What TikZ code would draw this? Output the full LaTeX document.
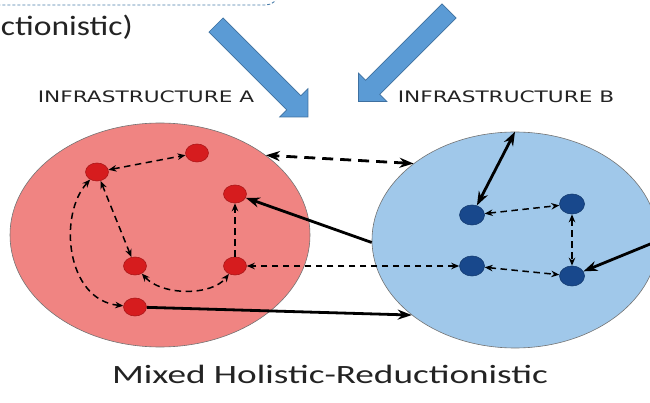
\documentclass[tikz,border=0pt]{standalone}
\usepackage{fontspec}
\setmainfont{Carlito}
\newfontfamily\capsfont{DejaVu Sans}
\usetikzlibrary{arrows.meta,shapes.geometric}
\definecolor{infraRed}{RGB}{240,132,130}
\definecolor{infraBlue}{RGB}{160,200,234}
\definecolor{dotRed}{RGB}{214,28,30}
\definecolor{dotBlue}{RGB}{24,72,140}
\definecolor{pointerBlue}{RGB}{91,155,213}
\definecolor{pointerEdge}{RGB}{62,112,160}
\definecolor{textGray}{RGB}{35,35,35}
\tikzset{
  infra/.style={
    ellipse,
    draw=black!55,
    line width=0.6pt,
    minimum width=300pt,
    minimum height=224pt,
    inner sep=0pt
  },
  reddot/.style={ellipse, fill=dotRed, draw=dotRed!80!black, line width=0.6pt,
    minimum width=23pt, minimum height=18pt, inner sep=0pt},
  bluedot/.style={ellipse, fill=dotBlue, draw=dotBlue!80!black, line width=0.6pt,
    minimum width=25pt, minimum height=20pt, inner sep=0pt},
  link/.style={arrows={Stealth[length=8pt,width=6.5pt]-Stealth[length=8pt,width=6.5pt]},
    line width=1.5pt, dash pattern=on 6.5pt off 4.5pt},
  onelink/.style={link, arrows={-Stealth[length=8pt,width=6.5pt]}},
  strong/.style={arrows={-Stealth[length=14pt,width=10pt]}, line width=2.8pt},
  strongboth/.style={strong, arrows={Stealth[length=14pt,width=10pt]-Stealth[length=14pt,width=10pt]}},
  strongdash/.style={strongboth, dash pattern=on 11pt off 7pt},
  infratitle/.style={font=\capsfont\fontsize{15.8}{18}\selectfont, text=textGray,
    xscale=1.37, anchor=base, inner sep=0pt},
  bigtext/.style={font=\fontsize{26.4}{30}\selectfont, text=textGray,
    xscale=1.41, anchor=base, inner sep=0pt},
  toptext/.style={font=\fontsize{28}{30}\selectfont, text=textGray,
    xscale=1.2, anchor=base east, inner sep=0pt},
  pointer/.style={fill=pointerBlue, draw=pointerEdge, line width=0.7pt, line join=miter},
  framebox/.style={draw=pointerBlue!80!black, line width=0.9pt, dash pattern=on 3pt off 2pt,
    rounded corners=12pt}
}
% block arrow: start point, angle, length
\newcommand{\pointerarrow}[3]{\draw[pointer, shift={#1}, rotate=#2]
  (0,-10) -- (#3-20,-10) -- (#3-20,-20) -- (#3,0) -- (#3-20,20) -- (#3-20,10) -- (0,10) -- cycle;}

\begin{document}
\begin{tikzpicture}[x=1pt, y=-1pt]
  \useasboundingbox (0,0) rectangle (650,403);
  \clip (0,0) rectangle (650,403);

  \draw[framebox] (-30,-60) rectangle (278,5);
  \node[toptext] (cut) at (133,36) {ctionistic)};

  \pointerarrow{(216,25)}{-45}{130}
  \pointerarrow{(449,11)}{-135}{128}

  \node[infratitle] (ttlA) at (146,103) {INFRASTRUCTURE A};
  \node[infratitle] (ttlB) at (506,103) {INFRASTRUCTURE B};

  \node[infra, fill=infraRed] (infA) at (160,235) {};
  \node[infra, fill=infraBlue, minimum width=286pt, minimum height=216pt] (infB) at (515,240) {};

  \node[reddot] (a1) at (97,172) {};
  \node[reddot] (a2) at (197,153) {};
  \node[reddot] (a3) at (235,194) {};
  \node[reddot] (a4) at (135,266) {};
  \node[reddot] (a5) at (235,266) {};
  \node[reddot] (a6) at (135,307) {};

  \node[bluedot] (b1) at (472,215) {};
  \node[bluedot] (b2) at (572,204) {};
  \node[bluedot] (b3) at (472,266) {};
  \node[bluedot] (b4) at (572,276) {};
  \coordinate (outside) at (660,240);

  % inside A
  \draw[link] (a1) -- (a2);
  \draw[link] (a1) -- (a4);
  \draw[link] (a1) .. controls (58,215) and (66,300) .. (a6);
  \draw[link] (a4) .. controls (162,296) and (212,296) .. (a5);
  \draw[onelink] (a5) -- (a3);

  % inside B
  \draw[link] (b1) -- (b2);
  \draw[link] (b2) -- (b4);
  \draw[link] (b3) -- (b4);
  \draw[strongboth] (infB.90) -- (b1);
  \draw[strong] (outside) -- (b4);

  % between A and B
  \draw[strongdash] (infB.143) -- (infA.37);
  \draw[strong] (infB.181) -- (a3);
  \draw[link] (b3) -- (a5);
  \draw[strong] (a6) -- (infB.216);

  \node[bigtext] (capt) at (330,383) {Mixed Holistic-Reductionistic};
\end{tikzpicture}
\end{document}
